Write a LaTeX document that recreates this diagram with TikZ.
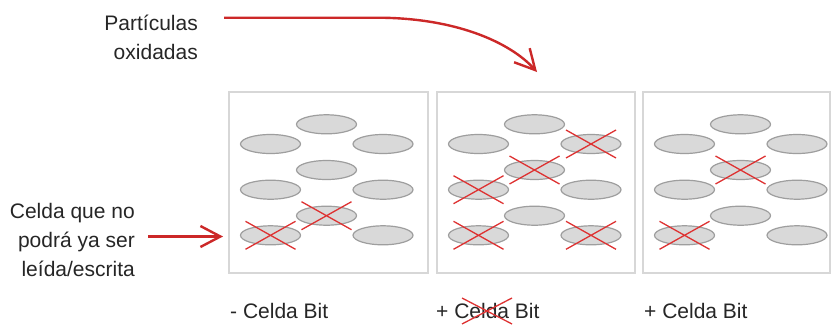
\documentclass[tikz,border=0pt]{standalone}
\usepackage{fontspec}
\setmainfont{Liberation Sans}
\usetikzlibrary{arrows.meta,shapes.geometric}
\definecolor{redc}{RGB}{204,40,40}
\definecolor{xred}{RGB}{222,50,50}
\definecolor{boxc}{RGB}{215,215,215}
\definecolor{ellf}{RGB}{217,217,217}
\definecolor{elld}{RGB}{158,158,158}
\definecolor{txt}{RGB}{38,38,38}
\begin{document}
\begin{tikzpicture}[x=1pt,y=-1pt,
  panel/.style={draw=boxc,line width=1.5pt,fill=white,minimum height=181pt,inner sep=0pt},
  cell/.style={ellipse,draw=elld,fill=ellf,line width=1.2pt,minimum width=60pt,minimum height=19pt,inner sep=0pt},
  xmark/.style={draw=xred,line width=1.3pt},
  lbl/.style={font=\fontsize{21}{25}\selectfont,text=txt,inner sep=0pt},
  pointer/.style={draw=redc,line width=2.4pt,-{Straight Barb[length=20pt,width=21pt]}}]
\fill[white] (0,0) rectangle (832,325);
\useasboundingbox (0,0) rectangle (832,325);
% panels
\node[panel,minimum width=199pt] (box1) at (328.5,182.5) {};
\node[panel,minimum width=198pt] (box2) at (536,182.5) {};
\node[panel,minimum width=187pt] (box3) at (736.5,182.5) {};
% cells
\foreach \p/\L in {1/229,2/437,3/643} {
  \node[cell] (p\p-a) at (\L+97.5,124.3) {};
  \node[cell] (p\p-b) at (\L+41.5,144) {};
  \node[cell] (p\p-c) at (\L+154,144) {};
  \node[cell] (p\p-d) at (\L+97.5,170) {};
  \node[cell] (p\p-e) at (\L+41.5,189.7) {};
  \node[cell] (p\p-f) at (\L+154,189.7) {};
  \node[cell] (p\p-g) at (\L+97.5,215.7) {};
  \node[cell] (p\p-h) at (\L+41.5,235.3) {};
  \node[cell] (p\p-i) at (\L+154,235.3) {};
}
% crosses on oxidised cells
\foreach \n in {p1-g,p1-h,p2-c,p2-d,p2-e,p2-h,p2-i,p3-d,p3-h} {
  \draw[xmark] ([shift={(-25,-14)}]\n.center) -- ([shift={(25,14)}]\n.center)
               ([shift={(-25,14)}]\n.center) -- ([shift={(25,-14)}]\n.center);
}
% top label and arrow
\node[lbl,anchor=base east] (tp1) at (198,30) {Partículas};
\node[lbl,anchor=base east] (tp2) at (198,59.5) {oxidadas};
\coordinate (s1) at (224,17.7);
\coordinate (t1) at (537,72);
\draw[pointer] (s1) -- (377,17.7) .. controls (455,17.7) and (510,42) .. (t1);
% left label and arrow
\node[lbl,anchor=base east] (lf1) at (135,218) {Celda que no};
\node[lbl,anchor=base east] (lf2) at (135,247) {podrá ya ser};
\node[lbl,anchor=base east] (lf3) at (135,276) {leída/escrita};
\coordinate (s2) at (148,236.5);
\coordinate (t2) at (223,236.5);
\draw[pointer] (s2) -- (t2);
% bottom labels
\node[lbl,anchor=base west] (lab1) at (230,318) {- Celda Bit};
\node[lbl,anchor=base west] (lab2) at (436,318) {+ Celda Bit};
\node[lbl,anchor=base west] (lab3) at (644,318) {+ Celda Bit};
\coordinate (xc) at (487,311);
\draw[xmark] ([shift={(-25,-13)}]xc) -- ([shift={(25,13)}]xc)
             ([shift={(-25,13)}]xc) -- ([shift={(25,-13)}]xc);
\end{tikzpicture}
\end{document}
